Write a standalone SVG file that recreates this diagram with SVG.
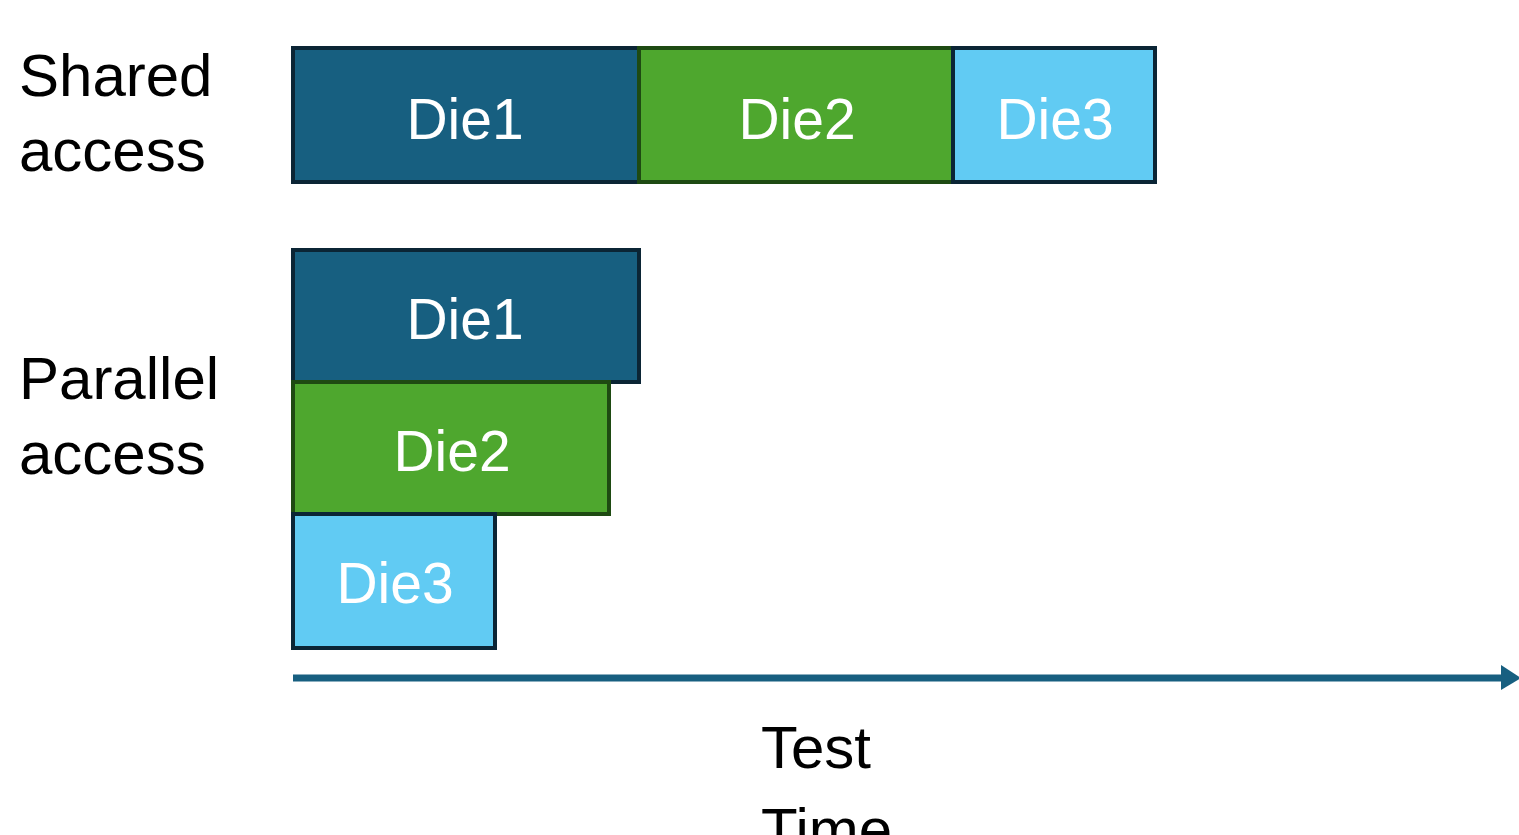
<svg xmlns="http://www.w3.org/2000/svg" width="1519" height="835" viewBox="0 0 1519 835">
<style>
.lbl{font-family:"Liberation Sans",Arial,sans-serif;font-size:60px;fill:#000000}
.die{font-family:"Liberation Sans",Arial,sans-serif;font-size:57px;fill:#ffffff;text-anchor:middle}
.d1{fill:#175F80;stroke:#0B2535;stroke-width:4}
.d2{fill:#4EA72E;stroke:#1E4A12;stroke-width:4}
.d3{fill:#61CBF3;stroke:#0B2535;stroke-width:4}
</style>
<rect width="1519" height="835" fill="#ffffff"/>
<g id="labels">
<text class="lbl" x="19" y="96">Shared</text>
<text class="lbl" x="19" y="171">access</text>
<text class="lbl" x="19" y="399">Parallel</text>
<text class="lbl" x="19" y="474">access</text>
<text class="lbl" x="761" y="768">Test</text>
<text class="lbl" x="761" y="850">Time</text>
</g>
<g id="shared-die1"><rect class="d1" x="293" y="48" width="346" height="134"/><text class="die" x="465" y="139">Die1</text></g>
<g id="shared-die2"><rect class="d2" x="639" y="48" width="314" height="134"/><text class="die" x="797" y="139">Die2</text></g>
<g id="shared-die3"><rect class="d3" x="953" y="48" width="202" height="134"/><text class="die" x="1055" y="139">Die3</text></g>
<g id="parallel-die1"><rect class="d1" x="293" y="250" width="346" height="132"/><text class="die" x="465" y="339">Die1</text></g>
<g id="parallel-die2"><rect class="d2" x="293" y="382" width="316" height="132"/><text class="die" x="452" y="471">Die2</text></g>
<g id="parallel-die3"><rect class="d3" x="293" y="514" width="202" height="134"/><text class="die" x="395" y="603">Die3</text></g>
<g id="connectors">
<line x1="293" y1="678" x2="1502" y2="678" stroke="#175F80" stroke-width="7"/>
<path d="M1501,665 L1521,678 L1501,690 Z" fill="#175F80"/>
</g>
</svg>
